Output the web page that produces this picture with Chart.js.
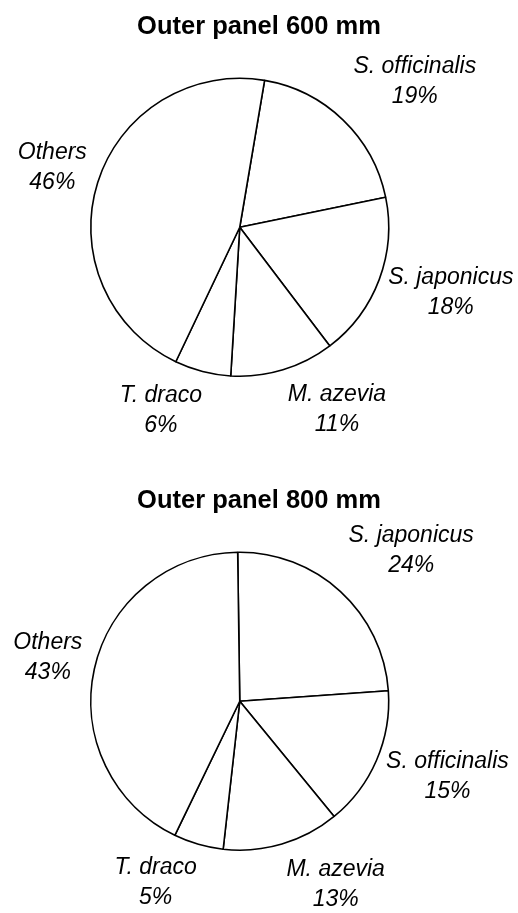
<!DOCTYPE html>
<html>
<head>
<meta charset="utf-8">
<script src="https://cdn.jsdelivr.net/npm/chart.js@4.4.1/dist/chart.umd.min.js"></script>
<style>
  html, body { margin: 0; padding: 0; background: #fff; overflow: hidden; }
  canvas { position: absolute; left: 0; }
  #pie600 { top: 0; }
  #pie800 { top: 474px; }
</style>
</head>
<body>
<canvas id="pie600" width="518" height="439"></canvas>
<canvas id="pie800" width="518" height="439"></canvas>
<script>
// catch composition by species (%)
var species600 = ['S. officinalis', 'S. japonicus', 'M. azevia', 'T. draco', 'Others'];
var share600 = [19.1, 17.9, 11.3, 6.1, 45.6];

var species800 = ['S. japonicus', 'S. officinalis', 'M. azevia', 'T. draco', 'Others'];
var share800 = [24.1, 15.2, 12.7, 5.4, 42.6];

var titles = ['Outer panel 600 mm', 'Outer panel 800 mm'];

// label placement around the pie, by slice order (angle nudge in degrees, distance in radii)
var labelShift = [6.2, -3.4, -11.2, 8.8, 0.2];
var labelDist = [1.53, 1.483, 1.387, 1.34, 1.321];

var pieLabels = {
    id: 'pieLabels',
    afterDatasetsDraw: function (chart) {
        var ctx = chart.ctx;
        var meta = chart.getDatasetMeta(0);
        var values = chart.data.datasets[0].data;
        var total = values.reduce(function (a, b) { return a + b; }, 0);
        ctx.save();
        ctx.fillStyle = '#000';
        ctx.font = 'italic 23px "Liberation Sans", Arial, sans-serif';
        ctx.textAlign = 'center';
        ctx.textBaseline = 'middle';
        meta.data.forEach(function (arc, i) {
            var p = arc.getProps(['x', 'y', 'startAngle', 'endAngle', 'outerRadius'], true);
            var a = (p.startAngle + p.endAngle) / 2 + labelShift[i] * Math.PI / 180;
            var d = p.outerRadius * labelDist[i];
            var cx = p.x + d * Math.cos(a);
            var cy = p.y + d * Math.sin(a);
            ctx.fillText(chart.data.labels[i], cx, cy - 15);
            ctx.fillText(Math.round(values[i] / total * 100) + '%', cx, cy + 15);
        });
        ctx.restore();
    }
};

var pieTitle = {
    id: 'pieTitle',
    afterDraw: function (chart, args, opts) {
        var ctx = chart.ctx;
        ctx.save();
        ctx.fillStyle = '#000';
        ctx.font = 'bold 25.5px "Liberation Sans", Arial, sans-serif';
        ctx.textAlign = 'center';
        ctx.textBaseline = 'alphabetic';
        ctx.fillText(opts.text, chart.width / 2, chart.chartArea.top - 43.5);
        ctx.restore();
    }
};

function makePie(canvasId, labels, values, rotation, title) {
    return new Chart(document.getElementById(canvasId), {
        type: 'pie',
        data: {
            labels: labels,
            datasets: [{
                data: values,
                backgroundColor: '#ffffff',
                borderColor: '#000000',
                borderWidth: 1.6
            }]
        },
        options: {
            responsive: false,
            animation: false,
            rotation: rotation,
            layout: { padding: { left: 90, right: 128.5, top: 77.5, bottom: 62 } },
            plugins: {
                legend: { display: false },
                tooltip: { enabled: false },
                title: { display: false },
                pieTitle: { text: title }
            },
            events: []
        },
        plugins: [pieLabels, pieTitle]
    });
}

makePie('pie600', species600, share600, 9.6, titles[0]);
makePie('pie800', species800, share800, -0.8, titles[1]);
</script>
</body>
</html>
